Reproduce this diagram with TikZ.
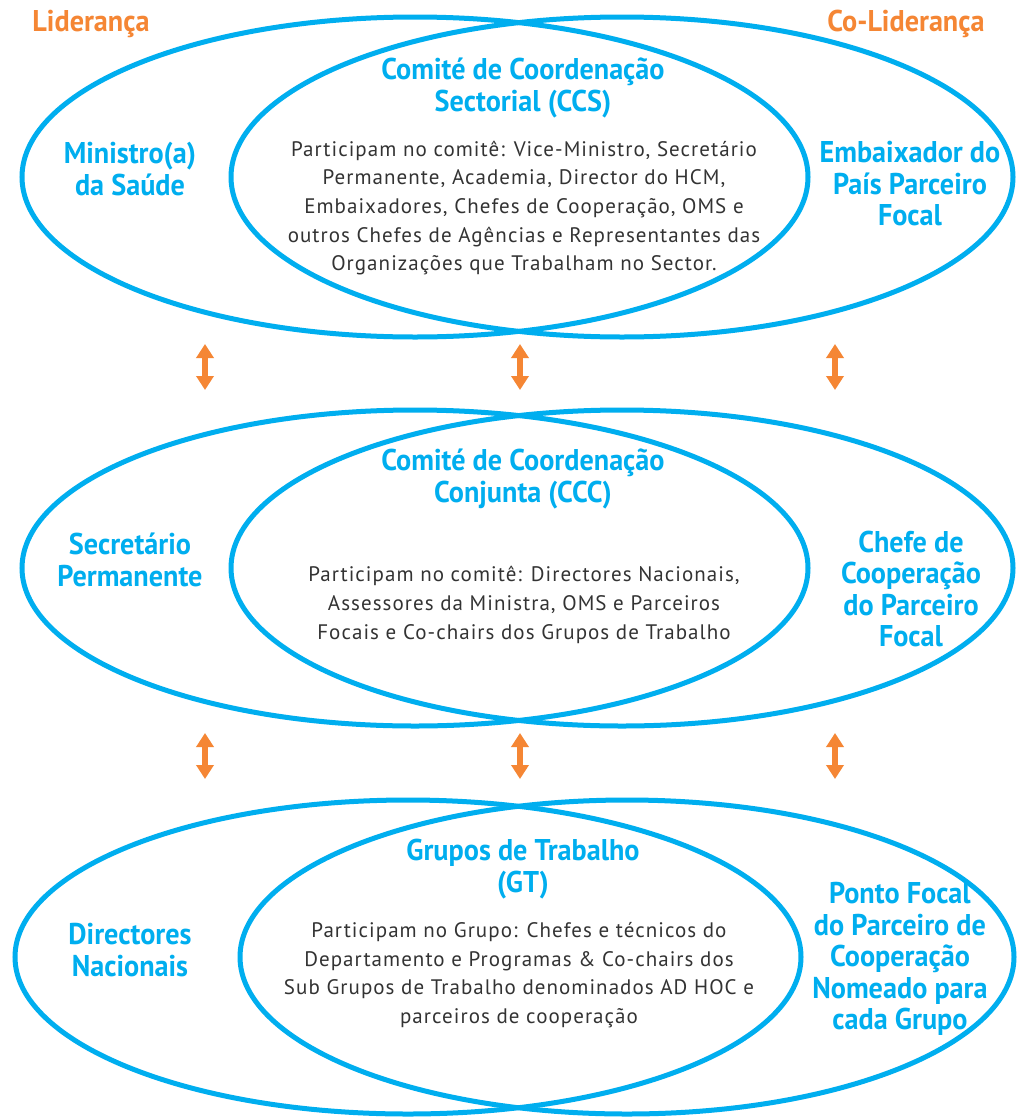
\documentclass[tikz,border=0pt]{standalone}
\usepackage{fontspec}
\usetikzlibrary{arrows.meta}
\newfontfamily\headfont[FakeStretch=0.94]{PT Sans}
\newfontfamily\bodyfont[LetterSpace=5]{PT Sans}
\definecolor{cyanblue}{HTML}{00AEEF}
\definecolor{orangeacc}{HTML}{F58634}
\definecolor{bodygray}{HTML}{333333}
\tikzset{
  ring/.style={draw=cyanblue, line width=5pt},
  headtxt/.style={text=cyanblue, align=center, inner sep=0pt, font=\headfont\bfseries\fontsize{30}{31.5}\selectfont},
  sidetxt/.style={text=cyanblue, align=center, inner sep=0pt, font=\headfont\bfseries\fontsize{30}{31.5}\selectfont},
  roletxt/.style={text=orangeacc, inner sep=0pt, font=\headfont\bfseries\fontsize{30}{31.5}\selectfont},
  bodytxt/.style={text=bodygray, align=center, inner sep=0pt, font=\bodyfont\fontsize{21}{28.6}\selectfont},
  linkarrow/.style={draw=orangeacc, line width=6pt, {Triangle[width=17pt,length=14pt]}-{Triangle[width=17pt,length=14pt]}}
}
\begin{document}
\begin{tikzpicture}[x=1pt,y=-1pt]
\useasboundingbox[fill=white] (0,0) rectangle (1017,1117);
% row 1
\draw[ring] (415,177) ellipse [x radius=393pt, y radius=160pt];
\draw[ring] (622,177) ellipse [x radius=391pt, y radius=160pt];
% row 2
\draw[ring] (415,568) ellipse [x radius=393pt, y radius=158pt];
\draw[ring] (622,568) ellipse [x radius=391pt, y radius=158pt];
% row 3
\draw[ring] (408,957) ellipse [x radius=393pt, y radius=157pt];
\draw[ring] (627,957) ellipse [x radius=387pt, y radius=157pt];

\node[roletxt] (lid) at (91,24) {Liderança};
\node[roletxt] (colid) at (906,24) {Co-Liderança};

% row 1 texts
\node[headtxt] (ccs) at (523,88) {Comité de Coordenação\\Sectorial (CCS)};
\node[bodytxt] (ccsbody) at (524,208) {Participam no comitê: Vice-Ministro, Secretário\\Permanente, Academia, Director do HCM,\\Embaixadores, Chefes de Cooperação, OMS e\\outros Chefes de Agências e Representantes das\\Organizações que Trabalham no Sector.};
\node[sidetxt] (min) at (130,169) {Ministro(a)\\da Saúde};
\node[sidetxt] (emb) at (910,184) {Embaixador do\\País Parceiro\\Focal};

% row 2 texts
\node[headtxt] (ccc) at (523,479) {Comité de Coordenação\\Conjunta (CCC)};
\node[bodytxt] (cccbody) at (524,605) {Participam no comitê: Directores Nacionais,\\Assessores da Ministra, OMS e Parceiros\\Focais e Co-chairs dos Grupos de Trabalho};
\node[sidetxt] (sec) at (130,560) {Secretário\\Permanente};
\node[sidetxt] (che) at (911,589) {Chefe de\\Cooperação\\do Parceiro\\Focal};

% row 3 texts
\node[headtxt] (gt) at (523,869) {Grupos de Trabalho\\(GT)};
\node[bodytxt] (gtbody) at (519,975) {Participam no Grupo: Chefes e técnicos do\\Departamento e Programas \& Co-chairs dos\\Sub Grupos de Trabalho denominados AD HOC e\\parceiros de cooperação};
\node[sidetxt] (dir) at (130,950) {Directores\\Nacionais};
\node[sidetxt] (pf) at (900,959) {Ponto Focal\\do Parceiro de\\Cooperação\\Nomeado para\\cada Grupo};

% arrows
\coordinate (a1t) at (205,344); \coordinate (a1b) at (205,390);
\coordinate (a2t) at (520,344); \coordinate (a2b) at (520,390);
\coordinate (a3t) at (835,344); \coordinate (a3b) at (835,390);
\coordinate (b1t) at (205,733); \coordinate (b1b) at (205,779);
\coordinate (b2t) at (520,733); \coordinate (b2b) at (520,779);
\coordinate (b3t) at (835,733); \coordinate (b3b) at (835,779);
\draw[linkarrow] (a1t) -- (a1b);
\draw[linkarrow] (a2t) -- (a2b);
\draw[linkarrow] (a3t) -- (a3b);
\draw[linkarrow] (b1t) -- (b1b);
\draw[linkarrow] (b2t) -- (b2b);
\draw[linkarrow] (b3t) -- (b3b);
\end{tikzpicture}
\end{document}
